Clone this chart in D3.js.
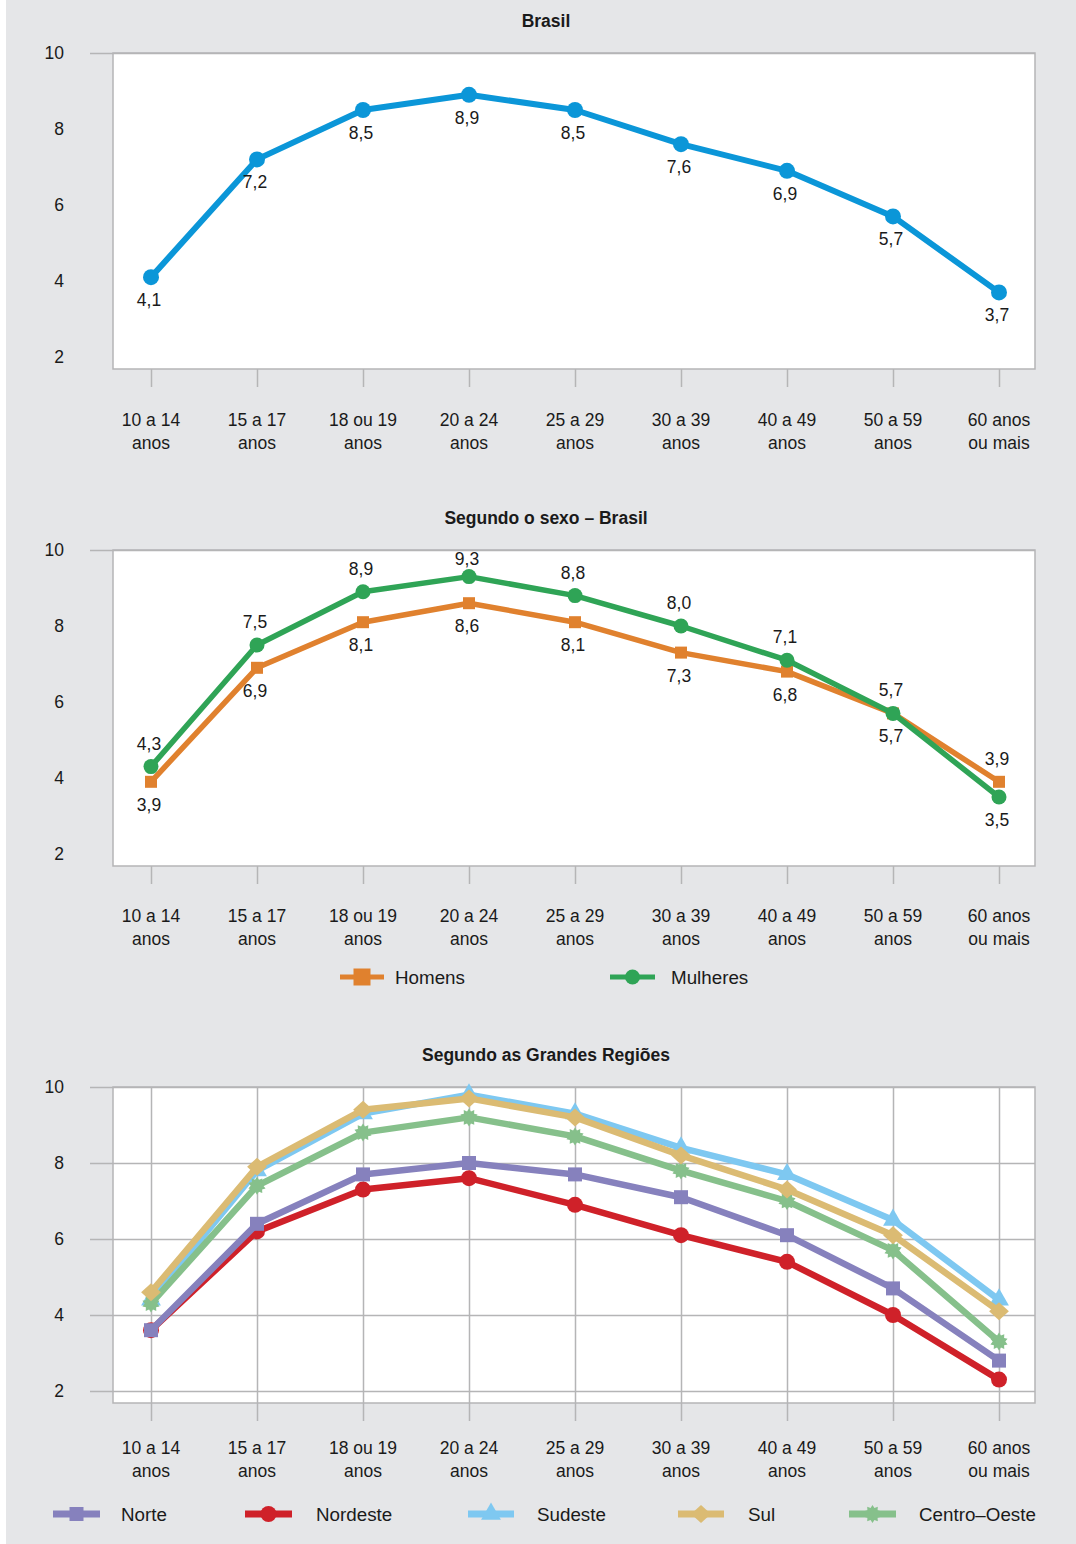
<!DOCTYPE html>
<html><head><meta charset="utf-8">
<script src="https://cdn.jsdelivr.net/npm/d3@7"></script>
<style>
body{margin:0;background:#fff;}
svg{display:block;font-family:"Liberation Sans",Arial,sans-serif;}
</style></head><body>
<svg id="c" width="1076" height="1544"></svg>
<script>
// ---------- DATA ----------
const categories = [["10 a 14","anos"],["15 a 17","anos"],["18 ou 19","anos"],["20 a 24","anos"],["25 a 29","anos"],["30 a 39","anos"],["40 a 49","anos"],["50 a 59","anos"],["60 anos","ou mais"]];
const yTicks = [2,4,6,8,10];
const brasil = [4.1,7.2,8.5,8.9,8.5,7.6,6.9,5.7,3.7];
const homens = [3.9,6.9,8.1,8.6,8.1,7.3,6.8,5.7,3.9];
const mulheres = [4.3,7.5,8.9,9.3,8.8,8.0,7.1,5.7,3.5];
const norte = [3.6,6.4,7.7,8.0,7.7,7.1,6.1,4.7,2.8];
const nordeste = [3.6,6.2,7.3,7.6,6.9,6.1,5.4,4.0,2.3];
const sudeste = [4.4,7.8,9.3,9.8,9.3,8.4,7.7,6.5,4.4];
const sul = [4.6,7.9,9.4,9.7,9.2,8.2,7.3,6.1,4.1];
const centroOeste = [4.3,7.4,8.8,9.2,8.7,7.8,7.0,5.7,3.3];
const titles = ["Brasil","Segundo o sexo – Brasil","Segundo as Grandes Regiões"];

// ---------- STYLE ----------
const GRAY = "#b5b5b6", TXT = "#1a1a1a";
const fmt = v => d3.format(".1f")(v).replace(".", ",");

const svg = d3.select("#c");
svg.append("rect").attr("x",6).attr("y",0).attr("width",1070).attr("height",1544).attr("fill","#e5e6e8");

const PL = 113, PR = 1035;
const x = d3.scalePoint().domain(d3.range(categories.length)).range([151, 999]);

function starPath(ro, ri, n) {
  const pts = [];
  for (let i = 0; i < n * 2; i++) {
    const a = Math.PI * i / n;
    pts.push([a, i % 2 ? ri : ro]);
  }
  return d3.lineRadial().curve(d3.curveLinearClosed)(pts);
}
const markers = {
  circle: (g, r) => g.append("circle").attr("r", r),
  square: (g, s) => g.append("rect").attr("x", -s/2).attr("y", -s/2).attr("width", s).attr("height", s),
  triangle: (g, s) => g.append("path").attr("d", d3.symbol(d3.symbolTriangle, s)()),
  diamond: (g, s) => g.append("path").attr("d", `M0,${-s/2}L${s*0.55},0L0,${s/2}L${-s*0.55},0Z`),
  star: (g, s) => g.append("path").attr("d", starPath(s, s*0.7, 10))
};

function drawChart(cfg) {
  const top = cfg.top, y2 = top + 304, bottom = y2 + 12;
  const y = d3.scaleLinear().domain([2, 10]).range([y2, top]);
  const g = svg.append("g");
  g.append("text").attr("x", 546).attr("y", top - 32).attr("text-anchor", "middle")
    .attr("dominant-baseline", "central").attr("font-weight", "bold").attr("font-size", 17.5)
    .attr("fill", TXT).text(cfg.title);
  g.append("rect").attr("x", PL).attr("y", top).attr("width", PR - PL).attr("height", bottom - top)
    .attr("fill", "#fff").attr("stroke", GRAY).attr("stroke-width", 1.5);
  const ya = g.append("g").attr("transform", `translate(${PL},0)`)
    .call(d3.axisLeft(y).tickValues(yTicks).tickSize(23).tickPadding(26).tickFormat(d3.format("d")));
  ya.select(".domain").remove();
  ya.selectAll("line").attr("stroke", GRAY).attr("stroke-width", 1.5)
    .attr("x2", d => (cfg.grid || d === 10) ? PR - PL : -23).attr("x1", -23);
  ya.selectAll("text").attr("font-size", 17.5).attr("fill", TXT).attr("font-family", null);
  const xa = g.append("g").attr("transform", `translate(0,${bottom})`)
    .call(d3.axisBottom(x).tickSize(18).tickFormat(""));
  xa.select(".domain").remove();
  xa.selectAll("line").attr("stroke", GRAY).attr("stroke-width", 1.5)
    .attr("y1", cfg.grid ? top - bottom : 0);
  const lab = g.append("g").selectAll("text").data(categories).join("text")
    .attr("x", (d, i) => x(i)).attr("text-anchor", "middle").attr("font-size", 17.5).attr("fill", TXT);
  lab.append("tspan").attr("x", (d, i) => x(i)).attr("y", bottom + cfg.lab1).attr("dominant-baseline", "central").text(d => d[0]);
  lab.append("tspan").attr("x", (d, i) => x(i)).attr("y", bottom + cfg.lab1 + 23).attr("dominant-baseline", "central").text(d => d[1]);

  const line = d3.line().x((d, i) => x(i)).y(d => y(d));
  cfg.series.forEach(s => {
    g.append("path").attr("d", line(s.values)).attr("fill", "none").attr("stroke", s.color)
      .attr("stroke-width", cfg.lw).attr("stroke-linejoin", "round");
    s.values.forEach((v, i) => {
      const m = g.append("g").attr("transform", `translate(${x(i)},${y(v)})`).attr("fill", s.color);
      markers[s.marker](m, s.size);
    });
  });
  if (cfg.labels) {
    cfg.series.forEach((s, si) => {
      s.values.forEach((v, i) => {
        let above = false;
        if (cfg.series.length > 1) {
          const other = cfg.series[1 - si].values[i];
          above = si === 1 ? v >= other : v > other;
        }
        let ly = above ? Math.max(y(v) - 23, top + 9) : y(v) + 23;
        g.append("text").attr("x", x(i) - 2).attr("y", ly).attr("text-anchor", "middle")
          .attr("dominant-baseline", "central").attr("font-size", 17.5).attr("fill", TXT).text(fmt(v));
      });
    });
  }
  if (cfg.legend) {
    cfg.series.forEach((s, si) => {
      const L = cfg.legend[si];
      const lg = g.append("g");
      lg.append("line").attr("x1", L.x).attr("x2", L.x + L.w).attr("y1", cfg.legendY).attr("y2", cfg.legendY)
        .attr("stroke", s.color).attr("stroke-width", cfg.legendLw);
      const m = lg.append("g").attr("transform", `translate(${L.x + L.w/2},${cfg.legendY})`).attr("fill", s.color);
      markers[s.marker](m, s.legendSize || s.size);
      lg.append("text").attr("x", L.tx).attr("y", cfg.legendY).attr("dominant-baseline", "central")
        .attr("font-size", 18.8).attr("fill", TXT).text(s.name);
    });
  }
}

drawChart({
  title: titles[0], top: 53, lab1: 51, lw: 6, labels: true,
  series: [{name: "Brasil", values: brasil, color: "#0b96d8", marker: "circle", size: 8}]
});

drawChart({
  title: titles[1], top: 550, lab1: 50, lw: 5.5, labels: true,
  series: [
    {name: "Homens", values: homens, color: "#e0812e", marker: "square", size: 12, legendSize: 17},
    {name: "Mulheres", values: mulheres, color: "#2fa456", marker: "circle", size: 7.5, legendSize: 7.5}
  ],
  legendY: 977, legendLw: 5,
  legend: [{x: 340, w: 44, tx: 395}, {x: 610, w: 45, tx: 671}]
});

const regions = [
  {name: "Nordeste", values: nordeste, color: "#cf2129", marker: "circle", size: 8},
  {name: "Norte", values: norte, color: "#8681bd", marker: "square", size: 14},
  {name: "Sudeste", values: sudeste, color: "#7ec8f1", marker: "triangle", size: 170},
  {name: "Centro–Oeste", values: centroOeste, color: "#86c08b", marker: "star", size: 9},
  {name: "Sul", values: sul, color: "#dbbb73", marker: "diamond", size: 18}
];
drawChart({
  title: titles[2], top: 1087, lab1: 45, lw: 6.5, grid: true, labels: false,
  series: regions,
  legendY: 1514, legendLw: 7,
  legend: [{x: 245, w: 47, tx: 316}, {x: 53, w: 47, tx: 121}, {x: 468, w: 46, tx: 537}, {x: 849, w: 47, tx: 919}, {x: 678, w: 46, tx: 748}]
});
</script>
</body></html>
